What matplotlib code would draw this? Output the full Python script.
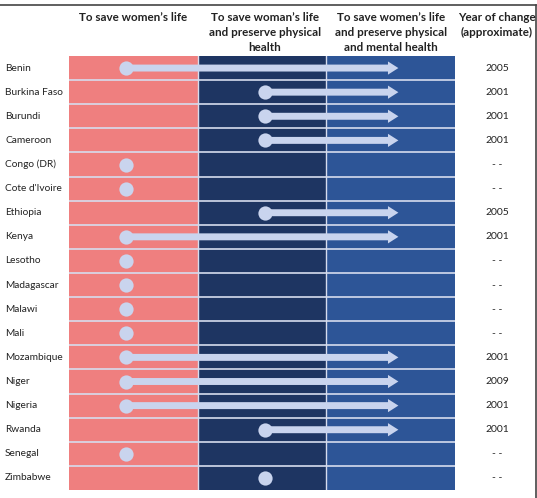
import matplotlib
matplotlib.use("Agg")
import matplotlib.pyplot as plt
from matplotlib.lines import Line2D

countries = ["Benin", "Burkina Faso", "Burundi", "Cameroon", "Congo (DR)", "Cote d'Ivoire",
             "Ethiopia", "Kenya", "Lesotho", "Madagascar", "Malawi", "Mali", "Mozambique",
             "Niger", "Nigeria", "Rwanda", "Senegal", "Zimbabwe"]
# stage index: 0 = save life, 1 = life + physical health, 2 = life + physical + mental health
start_stage = [0, 1, 1, 1, 0, 0, 1, 0, 0, 0, 0, 0, 0, 0, 0, 1, 0, 1]
end_stage = [2, 2, 2, 2, None, None, 2, 2, None, None, None, None, 2, 2, 2, 2, None, None]
years = ["2005", "2001", "2001", "2001", "--", "--", "2005", "2001", "--", "--", "--", "--",
         "2001", "2009", "2001", "2001", "--", "--"]
headers = ["To save women\u2019s life",
           "To save woman\u2019s life\nand preserve physical\nhealth",
           "To save women\u2019s life\nand preserve physical\nand mental health"]
year_header = "Year of change\n(approximate)"

col_colors = ["#EF7F7F", "#1E3562", "#2D5597"]
mark_color = "#C9D4EE"
sep_color = "#D6DCEE"

plt.rcParams['font.family'] = ['Lato', 'DejaVu Sans']

W, H = 537, 498
fig = plt.figure(figsize=(W / 100, H / 100), dpi=100)
ax = fig.add_axes([69 / W, 1 - 490 / H, (455 - 69) / W, (490 - 56) / H])
n = len(countries)
ax.set_xlim(0, 3)
ax.set_ylim(n, 0)
ax.axis("off")

for i, c in enumerate(col_colors):
    ax.axvspan(i, i + 1, color=c, lw=0, zorder=0)
for r in range(1, n):
    ax.axhline(r, color=sep_color, lw=1.2, zorder=1)
for v in (1, 2):
    ax.axvline(v, color=sep_color, lw=1.0, zorder=1)

start_off = [0.44, 0.52]
arrow_end = 2.56
for i, (s, e) in enumerate(zip(start_stage, end_stage)):
    y = i + 0.5
    x0 = s + start_off[s]
    if e is not None:
        ax.annotate("", xy=(arrow_end, y), xytext=(x0, y),
                    arrowprops=dict(arrowstyle="simple,head_length=0.75,head_width=0.95,tail_width=0.5",
                                    mutation_scale=10, color=mark_color, lw=0,
                                    shrinkA=0, shrinkB=0), zorder=3)
    ax.scatter([x0], [y], s=105, color=mark_color, zorder=4, linewidths=0)

for i, name in enumerate(countries):
    yy = 1 - (56 + (i + 0.5) * (434 / n)) / H
    fig.text(5 / W, yy, name, ha="left", va="center", fontsize=7.3, color="#222222")
    txt = years[i] if years[i] != "--" else "- -"
    fig.text(497 / W, yy, txt, ha="center", va="center", fontsize=7.5, color="#222222")

hx = [133, 265, 391]
for x, t in zip(hx, headers):
    fig.text(x / W, 1 - 12 / H, t, ha="center", va="top", fontsize=8.4, fontweight="bold",
             color="#222222", linespacing=1.45)
fig.text(497 / W, 1 - 12 / H, year_header, ha="center", va="top", fontsize=8.4,
         fontweight="bold", color="#222222", linespacing=1.45)

# frame lines (top and right)
fig.add_artist(Line2D([0, 535.5 / W], [1 - 5.5 / H, 1 - 5.5 / H], transform=fig.transFigure,
                      color="#444444", lw=1.2))
fig.add_artist(Line2D([535.5 / W, 535.5 / W], [0, 1 - 5.5 / H], transform=fig.transFigure,
                      color="#444444", lw=1.2))

fig.savefig("out.png", dpi=100, facecolor="white")
